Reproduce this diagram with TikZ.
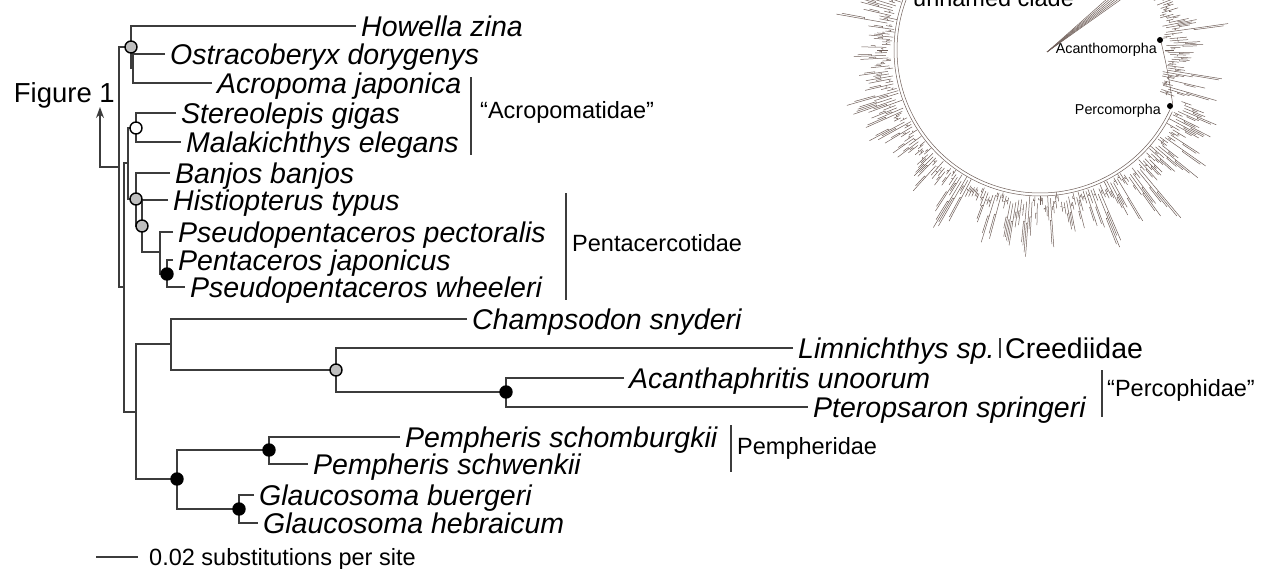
\documentclass[tikz,border=0pt]{standalone}
\usepackage{fontspec}
\setmainfont{Liberation Sans}
\usetikzlibrary{arrows.meta}
\definecolor{branchgray}{RGB}{60,60,60}
\definecolor{suppgray}{RGB}{190,190,190}
\definecolor{treebrown}{RGB}{110,94,88}
\begin{document}
\begin{tikzpicture}[x=1pt, y=-1pt,
  branch/.style={draw=branchgray, line width=1.3pt},
  taxon/.style={anchor=west, inner xsep=5pt, inner ysep=0pt, text height=20.4pt, text depth=0pt, font={\fontsize{28.5}{30}\selectfont\itshape}},
  cladelabel/.style={anchor=west, inner sep=0pt, text height=16.8pt, text depth=0pt, font={\fontsize{23.5}{26}\selectfont}},
  cladebar/.style={draw=branchgray, line width=1.1pt},
  supp/.style={circle, draw=black, line width=1.4pt, minimum size=12pt, inner sep=0pt},
  circtree/.style={draw=treebrown, line width=0.5pt}]
\useasboundingbox (0,0) rectangle (1268,568);

% Taxa
\node[taxon] (howella) at (356,26) {Howella zina};
\node[taxon] (ostra) at (165,54) {Ostracoberyx dorygenys};
\node[taxon] (acro) at (212,83) {Acropoma japonica};
\node[taxon] (stereo) at (176,113) {Stereolepis gigas};
\node[taxon] (malak) at (181,142) {Malakichthys elegans};
\node[taxon] (banjos) at (170,173) {Banjos banjos};
\node[taxon] (histio) at (168,200) {Histiopterus typus};
\node[taxon] (pector) at (173,232) {Pseudopentaceros pectoralis};
\node[taxon] (japon) at (173,260) {Pentaceros japonicus};
\node[taxon] (wheel) at (185,287) {Pseudopentaceros wheeleri};
\node[taxon] (champ) at (467,319) {Champsodon snyderi};
\node[taxon] (limn) at (793,348) {Limnichthys sp.};
\node[taxon] (acanth) at (624,378) {Acanthaphritis unoorum};
\node[taxon] (ptero) at (808,407) {Pteropsaron springeri};
\node[taxon] (schomb) at (400,437) {Pempheris schomburgkii};
\node[taxon] (schwen) at (308,464) {Pempheris schwenkii};
\node[taxon] (buerg) at (254,495) {Glaucosoma buergeri};
\node[taxon] (hebra) at (258,523) {Glaucosoma hebraicum};

% Internal nodes
\coordinate (nA) at (119,167);
\coordinate (nH) at (131,47);
\coordinate (nOA) at (133,68);
\coordinate (nB) at (124,287);
\coordinate (nC) at (128,163);
\coordinate (nS) at (136,128);
\coordinate (nBn) at (136,199);
\coordinate (nHs) at (142,226);
\coordinate (nP) at (160,252);
\coordinate (nPJ) at (167,274);
\coordinate (nD) at (136,412);
\coordinate (nCh) at (171,344);
\coordinate (nLm) at (336,370);
\coordinate (nAc) at (506,392);
\coordinate (nPm) at (177,479);
\coordinate (nPe) at (269,450);
\coordinate (nGl) at (239,509);

% Branches
\draw[branch] (howella.west) -| (nH) |- (nOA);
\draw[branch] (ostra.west) -| (nOA) |- (acro.west);
\draw[branch] (nH) -| (nA) |- (nB);
\draw[branch] (nC) -| (nB) |- (nD);
\draw[branch] (nS) -| (nC) |- (nBn);
\draw[branch] (stereo.west) -| (nS) |- (malak.west);
\draw[branch] (banjos.west) -| (nBn) |- (nHs);
\draw[branch] (histio.west) -| (nHs) |- (nP);
\draw[branch] (pector.west) -| (nP) |- (nPJ);
\draw[branch] (japon.west) -| (nPJ) |- (wheel.west);
\draw[branch] (nCh) -| (nD) |- (nPm);
\draw[branch] (champ.west) -| (nCh) |- (nLm);
\draw[branch] (limn.west) -| (nLm) |- (nAc);
\draw[branch] (acanth.west) -| (nAc) |- (ptero.west);
\draw[branch] (nPe) -| (nPm) |- (nGl);
\draw[branch] (schomb.west) -| (nPe) |- (schwen.west);
\draw[branch] (buerg.west) -| (nGl) |- (hebra.west);

% Support values
\node[supp, fill=suppgray] (sH) at (nH) {};
\node[supp, fill=white] (sS) at (nS) {};
\node[supp, fill=suppgray] (sBn) at (nBn) {};
\node[supp, fill=suppgray] (sHs) at (nHs) {};
\node[supp, fill=black] (sPJ) at (nPJ) {};
\node[supp, fill=suppgray] (sLm) at (nLm) {};
\node[supp, fill=black] (sAc) at (nAc) {};
\node[supp, fill=black] (sPm) at (nPm) {};
\node[supp, fill=black] (sPe) at (nPe) {};
\node[supp, fill=black] (sGl) at (nGl) {};

% Link to Figure 1
\node[anchor=base east, inner sep=0pt, font={\fontsize{27.5}{30}\selectfont}] (figlabel) at (115,102) {Figure 1};
\coordinate (figtip) at (100,107);
\draw[branch, -{Stealth[length=11pt, width=8pt]}] (nA) -| (figtip);

% Clade labels
\draw[cladebar] (471,77) -- (471,155);
\node[cladelabel] (acropomatidae) at (480,110) {“Acropomatidae”};
\draw[cladebar] (566,193) -- (566,300);
\node[cladelabel] (pentacerotidae) at (572,243) {Pentacercotidae};
\draw[cladebar] (1000,338) -- (1000,358);
\node[cladelabel, text height=20.4pt, font={\fontsize{28.5}{30}\selectfont}] (creediidae) at (1005,348) {Creediidae};
\draw[cladebar] (1102,370) -- (1102,417);
\node[cladelabel] (percophidae) at (1107,388) {“Percophidae”};
\draw[cladebar] (731,425) -- (731,472);
\node[cladelabel] (pempheridae) at (737,446) {Pempheridae};

% Scale bar
\coordinate (sbar) at (96,557);
\node[cladelabel, inner xsep=11pt] (sblabel) at (138,557) {0.02 substitutions per site};
\draw[branch] (sbar) -- (sblabel.west);

% Overview tree (inset)
\pgfmathsetseed{42}
\begin{scope}[shift={(1040,50)}]
  \draw[circtree] plot[domain=22:205, samples=120] (\x:143);
  \draw[circtree] plot[domain=25:200, samples=120] (\x:146);
  \draw[circtree] (22:143) .. controls (10:130) .. (-5:121);
  \foreach \a in {-24,-23,...,205} {
    \pgfmathsetmacro\rzero{(\a<20 ? 124 : 146) + 10*rnd}
    \pgfmathsetmacro\rone{\rzero + 6 + 68*rnd*rnd}
    \pgfmathsetmacro\rmid{\rzero + 0.45*(\rone-\rzero)}
    \pgfmathsetmacro\rtip{\rone-2-8*rnd}
    \pgfmathsetmacro\atwo{\a+0.5}
    \draw[circtree] (\a:\rzero) -- (\a:\rone);
    \draw[circtree] (\a:\rmid) -- (\atwo:\rmid) -- (\atwo:\rtip);
  }
  \foreach \t in {0,...,5}
    \draw[circtree] (7,2) -- ({68+3*\t},-52);
\end{scope}
\node[anchor=base west, inner sep=0pt, font={\fontsize{23.5}{26}\selectfont}] (unnamed) at (913,6) {unnamed clade};
\fill (1160,40) circle (3);
\node[anchor=east, inner sep=0pt, font={\fontsize{14.3}{16}\selectfont}] (acanthomorpha) at (1157,50) {Acanthomorpha};
\fill (1170,106) circle (3);
\node[anchor=east, inner sep=0pt, font={\fontsize{14.3}{16}\selectfont}] (percomorpha) at (1161,111) {Percomorpha};

\end{tikzpicture}
\end{document}
